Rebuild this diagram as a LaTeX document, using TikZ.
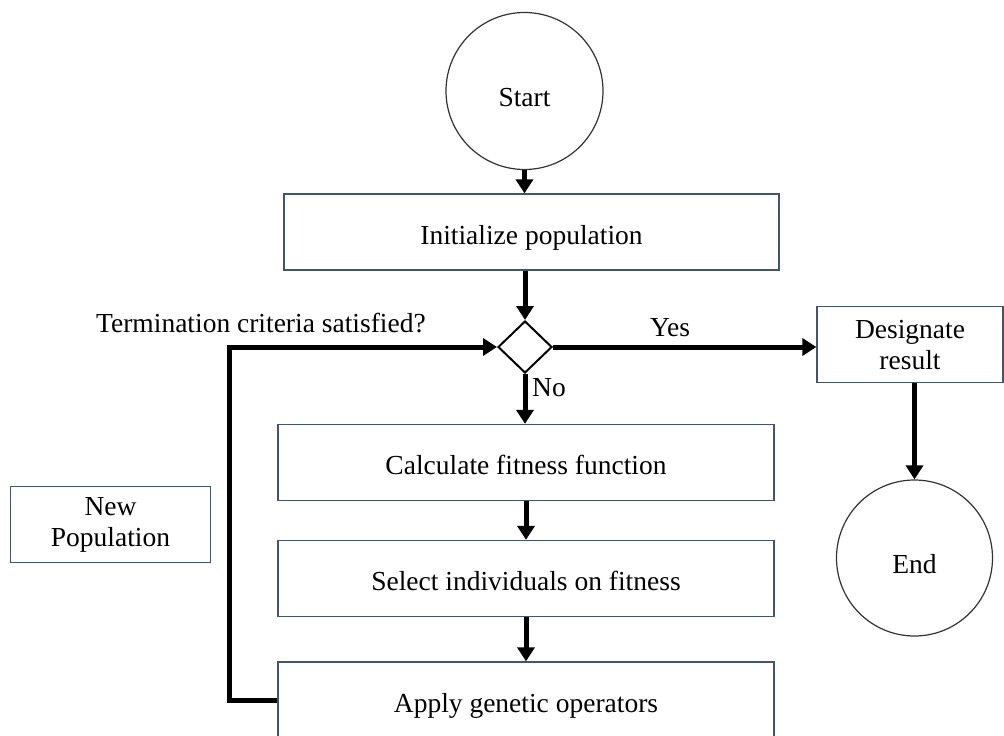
\documentclass[tikz,border=0pt]{standalone}
\usepackage{fontspec}
\setmainfont{Liberation Serif}
\usetikzlibrary{arrows.meta,shapes.geometric}
\definecolor{boxc}{HTML}{44546A}
\begin{document}
\begin{tikzpicture}[x=1pt,y=-1pt,
  every node/.style={font=\fontsize{27.5}{31}\selectfont, inner sep=0pt},
  procbox/.style={draw=boxc, line width=1.3pt, rectangle, align=center, minimum height=76pt},
  onebox/.style={procbox, text height=24pt, text depth=0pt},
  term/.style={draw=black!80, line width=1.2pt, circle, minimum size=157pt, text height=30pt, text depth=0pt},
  decision/.style={draw=black, line width=2pt, diamond, minimum width=54pt, minimum height=52pt},
  flow/.style={line width=5pt, -{Triangle[width=17pt,length=14pt]}}
]
\useasboundingbox (0,0) rectangle (1004,736);
\node[term] (start) at (524.5,91) {Start};
\node[onebox, minimum width=495pt] (init) at (531.5,232) {Initialize population};
\node[decision] (dec) at (525,347) {};
\node[onebox, minimum width=496pt] (calc) at (526,462.5) {Calculate fitness function};
\node[onebox, minimum width=496pt] (sel) at (526,578.5) {Select individuals on fitness};
\node[onebox, minimum width=496pt] (apply) at (526,700) {Apply genetic operators};
\node[procbox, minimum width=200pt] (newpop) at (110.5,524.7) {New\\Population};
\node[procbox, minimum width=186pt] (des) at (910,344.6) {Designate\\result};
\node[term, minimum size=156pt] (endn) at (914.5,558) {End};
\node[anchor=base west] (crit) at (96,332) {Termination criteria satisfied?};
\node (yes) at (670,328) {Yes};
\node[anchor=west] (no) at (532,388) {No};

\draw[flow] (start.south) -- (start.south |- init.north);
\draw[flow] (dec.north |- init.south) -- (dec.north);
\draw[flow] (dec.east) -- (dec.east -| des.west);
\draw[flow] (dec.south) -- (dec.south |- calc.north);
\draw[flow] (calc.south) -- (sel.north);
\draw[flow] (sel.south) -- (apply.north);
\draw[flow] (apply.west) -- ++(-48,0) |- (dec.west);
\draw[flow] (des.south -| endn.north) -- (endn.north);
\end{tikzpicture}
\end{document}
